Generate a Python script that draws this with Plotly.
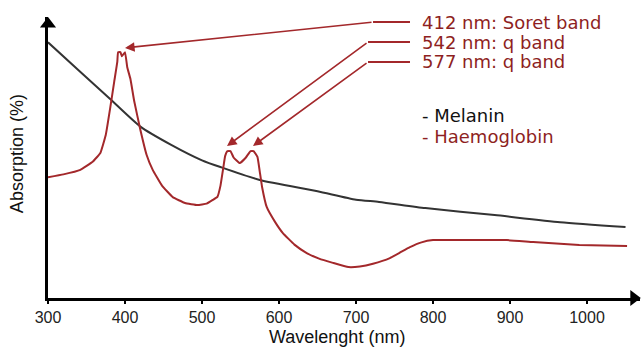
import plotly.graph_objects as go

# ---- data (arbitrary absorption units 0-100) ----
mel_nm = [300, 340, 380, 420, 460, 500, 525, 575, 650, 700, 730, 790, 880, 965, 1050]
mel_abs = [91, 81, 71, 61, 54.5, 49, 46.5, 42, 38, 35, 34.2, 32, 29.5, 27, 25.3]

hb_nm = [300, 320, 342, 358, 368, 375, 381, 386, 390, 391, 394, 396, 400, 403, 407,
         412, 420, 428, 436, 448, 462, 478, 494, 506, 514, 520, 524, 528, 530, 533,
         537, 541, 549, 557, 563, 567, 572, 575, 578, 584, 595, 605, 620, 636, 652,
         670, 690, 705, 722, 744, 758, 770, 785, 800, 850, 896, 930, 960, 990, 1052]
hb_abs = [43, 44, 45.6, 48.5, 51.6, 58, 68, 77, 84, 87.5, 87.5, 86, 87.5, 82, 78,
          70, 59.8, 51, 45.6, 40, 35.9, 33.8, 33.1, 33.6, 34.9, 36, 40, 47, 50.5, 52.3,
          52.3, 50, 48, 50, 52.3, 52.3, 50.2, 45, 39.5, 32.4, 27, 23.1, 19, 16, 14,
          12.5, 11, 11.2, 12.2, 14.2, 16.3, 18.1, 19.8, 20.6, 20.6, 20.6, 19.9, 19.4, 18.9, 18.5]

x_ticks = [300, 400, 500, 600, 700, 800, 900, 1000]
x_tick_labels = ["300", "400", "500", "600", "700", "800", "900", "1000"]

band_labels = ["412 nm: Soret band", "542 nm: q band", "577 nm: q band"]
band_target_nm = [400, 532.5, 566.2]
band_target_abs = [89.0, 54.1, 54.1]
band_label_abs = [98.2, 91.1, 84.0]
elbow_nm = [722.1, 715.6, 715.6]
label_start_nm = 770.1
text_nm = 783.1

legend_texts = ["- Melanin", "- Haemoglobin"]
legend_abs = [65.1, 57.3]

X_MAX = 1068.8
Y_MAX = 100

RED = "#A3282B"
DARKRED = "#8E1F22"

fig = go.Figure()
fig.add_trace(go.Scatter(x=mel_nm, y=mel_abs, mode="lines", line=dict(color="#333333", width=2, shape="spline", smoothing=0.6),
                         hoverinfo="skip", showlegend=False))
fig.add_trace(go.Scatter(x=hb_nm, y=hb_abs, mode="lines", line=dict(color=RED, width=2, shape="spline", smoothing=0.3),
                         hoverinfo="skip", showlegend=False))

# axis arrowheads
fig.add_trace(go.Scatter(x=[X_MAX - 8], y=[0], mode="markers", marker=dict(symbol="triangle-right", size=14, color="black"),
                         cliponaxis=False, hoverinfo="skip", showlegend=False))
fig.add_trace(go.Scatter(x=[300], y=[Y_MAX - 2.5], mode="markers", marker=dict(symbol="triangle-up", size=14, color="black"),
                         cliponaxis=False, hoverinfo="skip", showlegend=False))

annotations = []
shapes = []
for lab, tx, ty, ly, ex in zip(band_labels, band_target_nm, band_target_abs, band_label_abs, elbow_nm):
    shapes.append(dict(type="line", x0=ex, y0=ly, x1=label_start_nm, y1=ly, xref="x", yref="y",
                       line=dict(color=RED, width=2)))
    annotations.append(dict(x=tx, y=ty, ax=ex, ay=ly, axref="x", ayref="y", xref="x", yref="y",
                            showarrow=True, arrowhead=2, arrowsize=1.2, arrowwidth=1.6, arrowcolor=RED, text=""))
    annotations.append(dict(x=text_nm, y=ly, xref="x", yref="y", text=lab, showarrow=False,
                            xanchor="left", yanchor="middle",
                            font=dict(family="DejaVu Sans", size=18, color=DARKRED)))

for lab, ly, col in zip(legend_texts, legend_abs, ["#111111", DARKRED]):
    annotations.append(dict(x=text_nm, y=ly, xref="x", yref="y", text=lab, showarrow=False,
                            xanchor="left", yanchor="middle",
                            font=dict(family="DejaVu Sans", size=18, color=col)))

annotations.append(dict(x=0.5, y=0, xref="paper", yref="paper", text="Wavelenght (nm)", showarrow=False,
                        xanchor="center", yanchor="top", yshift=-27, xshift=-7,
                        font=dict(family="Liberation Sans", size=18, color="#111111")))
annotations.append(dict(x=0, y=0.512, xref="paper", yref="paper", text="Absorption (%)", showarrow=False,
                        xanchor="center", yanchor="middle", xshift=-31, textangle=-90,
                        font=dict(family="Liberation Sans", size=18, color="#111111")))

fig.update_layout(
    width=644, height=347,
    margin=dict(l=48, r=4, t=17, b=49),
    paper_bgcolor="white", plot_bgcolor="white",
    annotations=annotations, shapes=shapes,
    xaxis=dict(range=[300, X_MAX], tickvals=x_ticks, ticktext=x_tick_labels, showgrid=False, zeroline=False,
               showline=True, linecolor="black", linewidth=3, ticks="outside", ticklen=3, tickwidth=2,
               tickcolor="black", tickfont=dict(family="Liberation Sans", size=16, color="#222222")),
    yaxis=dict(range=[0, Y_MAX], showgrid=False, zeroline=False, showticklabels=False,
               showline=True, linecolor="black", linewidth=3, ticks=""),
)

fig.write_html("out.html", config={"displayModeBar": False},
               post_script="document.body.style.margin='0';document.body.style.overflow='hidden';")
